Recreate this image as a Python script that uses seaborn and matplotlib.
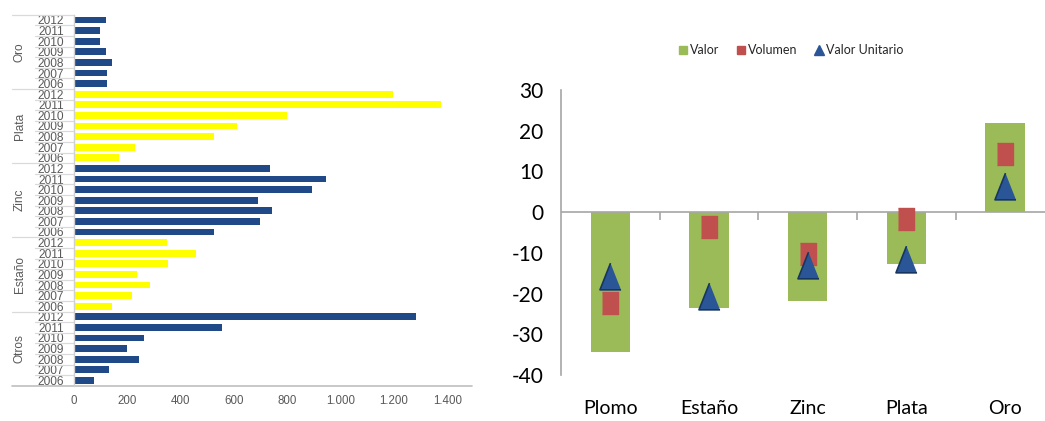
import numpy as np
import pandas as pd
import matplotlib
matplotlib.use("Agg")
import matplotlib.pyplot as plt
from matplotlib.lines import Line2D
import seaborn as sns

# ---- left panel: yearly values per metal ----
anios = ["2012", "2011", "2010", "2009", "2008", "2007", "2006"]
metales = ["Oro", "Plata", "Zinc", "Estaño", "Otros"]
oro = [119, 96, 96, 119, 144, 125, 125]
plata = [1195, 1374, 800, 611, 526, 229, 170]
zinc = [736, 945, 891, 690, 741, 696, 526]
estano = [348, 456, 351, 236, 284, 216, 144]
otros = [1282, 554, 261, 198, 244, 131, 74]
ticks_x = [0, 200, 400, 600, 800, 1000, 1200, 1400]
ticks_x_txt = ["0", "200", "400", "600", "800", "1.000", "1.200", "1.400"]

# ---- right panel: variation (%) ----
categorias = ["Plomo", "Estaño", "Zinc", "Plata", "Oro"]
valor = [-34.4, -23.6, -21.8, -12.7, 21.8]
volumen = [-22.3, -3.7, -10.4, -1.7, 14.3]
valor_unitario = [-15.6, -20.6, -12.9, -11.4, 6.4]
ticks_y = [-40, -30, -20, -10, 0, 10, 20, 30]

AZUL = "#1F4A87"
AMARILLO = "#FFFF00"
VERDE = "#9BBB59"
ROJO = "#C0504D"
AZUL_TRI = "#2A5597"
GRIS_TXT = "#595959"
GRIS_LIN = "#D0D0D0"

sns.set_style("white")
plt.rcParams["font.family"] = ["Liberation Sans", "DejaVu Sans"]

fig = plt.figure(figsize=(10.45, 4.21), dpi=100)
W, H = 1045, 421

# ================= left panel =================
series = [oro, plata, zinc, estano, otros]
colores_metal = {"Oro": AZUL, "Plata": AMARILLO, "Zinc": AZUL, "Estaño": AMARILLO, "Otros": AZUL}
filas = []
for metal, vals in zip(metales, series):
    for anio, v in zip(anios, vals):
        filas.append({"fila": f"{metal}|{anio}", "metal": metal, "anio": anio, "valor": v})
df1 = pd.DataFrame(filas)

ax1 = fig.add_axes([74 / W, 1 - 385.7 / H, 398 / W, 371 / H])
sns.barplot(data=df1, x="valor", y="fila", hue="metal", palette=colores_metal,
            dodge=False, legend=False, width=0.64, orient="h", saturation=1,
            linewidth=0, ax=ax1)
n = len(df1)
ax1.set_ylim(n - 0.5, -0.5)
ax1.set_xlim(0, 1492)
ax1.set_xlabel("")
ax1.set_ylabel("")
ax1.set_yticks(range(n))
ax1.set_yticklabels(df1["anio"].tolist())
ax1.set_xticks(ticks_x)
ax1.set_xticklabels(ticks_x_txt)
ax1.tick_params(axis="y", length=0, pad=7, labelsize=8.6, labelcolor=GRIS_TXT)
ax1.tick_params(axis="x", length=3, width=1, color="#BFBFBF", pad=4,
                labelsize=8.3, labelcolor=GRIS_TXT)
for s in ["top", "right", "bottom"]:
    ax1.spines[s].set_visible(False)
ax1.spines["left"].set_color(GRIS_LIN)
ax1.spines["left"].set_linewidth(1)

tr = ax1.get_yaxis_transform()
grp = len(anios)
for b in np.arange(-0.5, n - 0.5):
    x0 = -0.156 if (b + 0.5) % grp == 0 else -0.0985
    ax1.plot([x0, 0], [b, b], transform=tr, color="#DADADA", lw=0.9, clip_on=False)
ax1.plot([-0.156, 1], [n - 0.5, n - 0.5], transform=tr, color="#BFBFBF", lw=1.2, clip_on=False)
for i, metal in enumerate(metales):
    ax1.text(-0.136, i * grp + (grp - 1) / 2, metal, transform=tr, rotation=90,
             ha="center", va="center", fontsize=8.6, color=GRIS_TXT)

# ================= right panel =================
ax2 = fig.add_axes([561 / W, 1 - 375 / H, 493.5 / W, 285 / H])
sns.barplot(x=categorias, y=valor, color=VERDE, width=0.4, saturation=1,
            linewidth=0, ax=ax2, zorder=1)

pos = np.arange(len(categorias))
cuadro = [(-0.77, -1), (0.77, -1), (0.77, 1), (-0.77, 1)]
triang = [(0, 1), (-0.79, -1), (0.79, -1)]
ax2.plot(pos, volumen, linestyle="none", marker=cuadro, markersize=15.6,
         color=ROJO, markeredgecolor=ROJO, zorder=3)
ax2.plot(pos, valor_unitario, linestyle="none", marker=triang, markersize=19.2,
         color=AZUL_TRI, markeredgecolor="#17365F", markeredgewidth=1.2, zorder=4)

ax2.set_xlim(-0.5, len(categorias) - 0.5)
ax2.set_ylim(ticks_y[0], ticks_y[-1])
ax2.axhline(0, color="#A6A6A6", lw=1.2, zorder=2)
ax2.vlines(pos[:-1] + 0.5, -1.9, 0, color="#A6A6A6", lw=1.2, zorder=2)
for s in ["top", "right", "bottom"]:
    ax2.spines[s].set_visible(False)
ax2.spines["left"].set_color("#A6A6A6")
ax2.spines["left"].set_linewidth(1.2)
ax2.set_yticks(ticks_y)
ax2.set_yticklabels([str(t) for t in ticks_y])
ax2.tick_params(axis="y", length=4.3, width=1.2, color="#A6A6A6", pad=8.5,
                labelsize=15, labelcolor="black")
ax2.tick_params(axis="x", length=0, pad=18, labelsize=14, labelcolor="black")
for lab in ax2.get_xticklabels() + ax2.get_yticklabels():
    lab.set_family(["Lato", "DejaVu Sans"])
ax2.set_xlabel("")
ax2.set_ylabel("")

handles = [
    Line2D([], [], linestyle="none", marker="s", markersize=6, color=VERDE),
    Line2D([], [], linestyle="none", marker="s", markersize=6, color=ROJO),
    Line2D([], [], linestyle="none", marker="^", markersize=6.5, color=AZUL_TRI),
]
fig.legend(handles, ["Valor", "Volumen", "Valor Unitario"], loc="center",
           bbox_to_anchor=(790 / W, 1 - 50 / H), ncol=3, frameon=False,
           prop={"family": ["Lato", "DejaVu Sans"], "size": 9},
           handletextpad=0.1, columnspacing=1.2, handlelength=1.0)

fig.savefig("out.png", dpi=100, facecolor="white")
